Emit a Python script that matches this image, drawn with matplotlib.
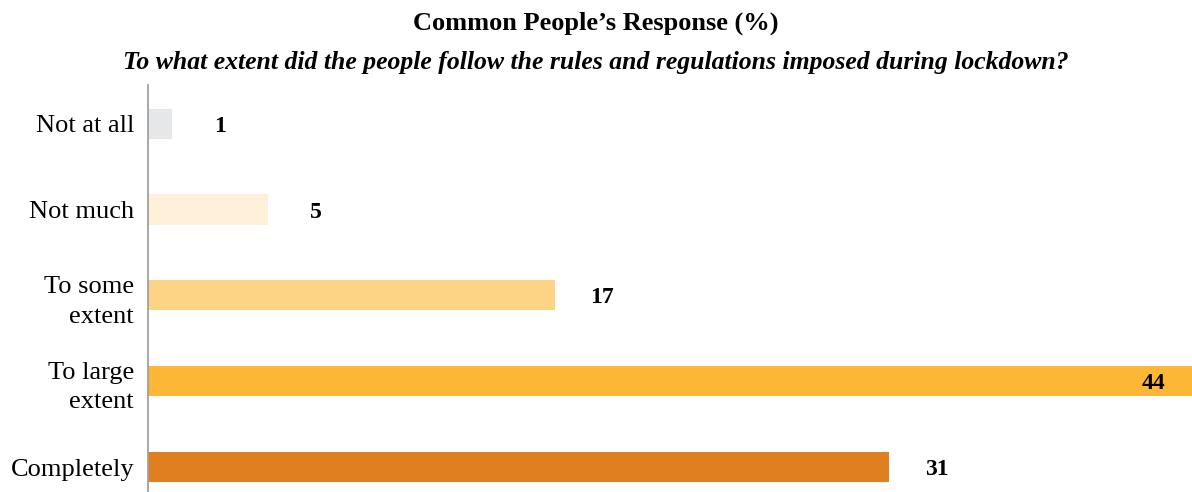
import matplotlib.pyplot as plt

# Survey responses, percent of respondents
categories = ["Not at all", "Not much", "To some\nextent", "To large\nextent", "Completely"]
values = [1, 5, 17, 44, 31]
colors = ["#E6E7E9", "#FEF0D9", "#FDD385", "#FBB735", "#DF7F1F"]

title = "Common People\u2019s Response (%)"
subtitle = "To what extent did the people follow the rules and regulations imposed during lockdown?"

plt.rcParams['font.family'] = ['Liberation Serif', 'DejaVu Serif']

fig = plt.figure(figsize=(11.92, 4.92), dpi=100)
ax = fig.add_axes([148 / 1192, 0.0, 1 - 148 / 1192, 1 - 85 / 492])

pos = list(range(len(categories)))
ax.barh(pos, values, height=0.35, color=colors)

for y, v in zip(pos, values):
    if v == max(values):
        # longest bar runs off the right edge, so its label sits inside
        ax.text(v - 1.95, y, str(v), ha='center', va='center_baseline', fontsize=17, fontweight='bold')
    else:
        ax.text(v + 2.0, y, str(v), ha='center', va='center_baseline', fontsize=17, fontweight='bold')

ax.set_xlim(0, 43.65)
ax.set_ylim(4.29, -0.45)
ax.set_yticks(pos)
ax.set_yticklabels(categories, fontsize=19, linespacing=1.45)
ax.tick_params(axis='y', length=0, pad=10)
ax.set_xticks([])
for s in ['top', 'right', 'bottom']:
    ax.spines[s].set_visible(False)
ax.spines['left'].set_color('#A0A0A0')
ax.spines['left'].set_linewidth(1.3)

fig.text(0.5, 1 - 23 / 492, title, ha='center', va='center', fontsize=19, fontweight='bold')
fig.text(0.5, 1 - 62 / 492, subtitle, ha='center', va='center', fontsize=18.5,
         fontweight='bold', style='italic')

fig.savefig("out.png", dpi=100)
